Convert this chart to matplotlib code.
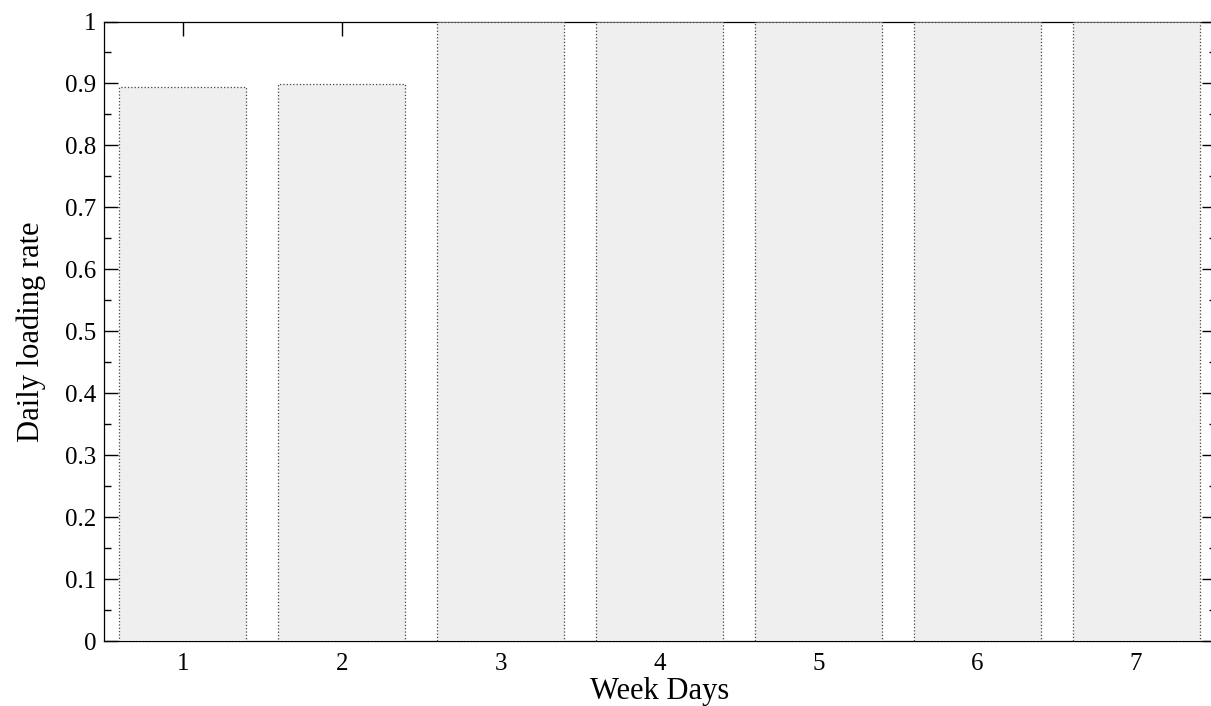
import numpy as np
import matplotlib.pyplot as plt
from matplotlib.ticker import MultipleLocator

plt.rcParams['font.family'] = ['Liberation Serif', 'DejaVu Serif']

days = [1, 2, 3, 4, 5, 6, 7]
loading_rate = [0.895, 0.899, 1.0, 1.0, 1.0, 1.0, 1.0]
y_ticks = [0, 0.1, 0.2, 0.3, 0.4, 0.5, 0.6, 0.7, 0.8, 0.9, 1]
y_labels = ['0', '0.1', '0.2', '0.3', '0.4', '0.5', '0.6', '0.7', '0.8', '0.9', '1']

W, H = 1211, 706
fig = plt.figure(figsize=(W / 100, H / 100), dpi=100)
# right spine sits just past the image edge in the reference
left, right, top, bottom = 103.5, 1215.5, 21.5, 641
ax = fig.add_axes([left / W, 1 - bottom / H, (right - left) / W, (bottom - top) / H])

ax.bar(days, loading_rate, width=0.8, color='#efefef', edgecolor='#444444',
       linestyle=':', linewidth=0.9, zorder=2)

ax.set_xlim(0.5, 7.5)
ax.set_ylim(0, 1)
ax.set_xticks(days)
ax.set_yticks(y_ticks)
ax.set_yticklabels(y_labels)
ax.yaxis.set_minor_locator(MultipleLocator(0.05))
ax.tick_params(axis='both', which='both', direction='in', top=True, right=True,
               labelsize=18, width=1)
ax.tick_params(which='major', length=10)
ax.tick_params(which='minor', length=5)
ax.tick_params(axis='x', which='minor', bottom=False, top=False)
ax.tick_params(axis='x', pad=9)
ax.tick_params(axis='y', pad=5)

ax.set_axisbelow(True)
for s in ax.spines.values():
    s.set_zorder(1)
    s.set_linewidth(0.9)

ax.set_xlabel('Week Days', fontsize=22, labelpad=1)
ax.set_ylabel('Daily loading rate', fontsize=22, labelpad=14)

fig.savefig('out.png', dpi=100)
